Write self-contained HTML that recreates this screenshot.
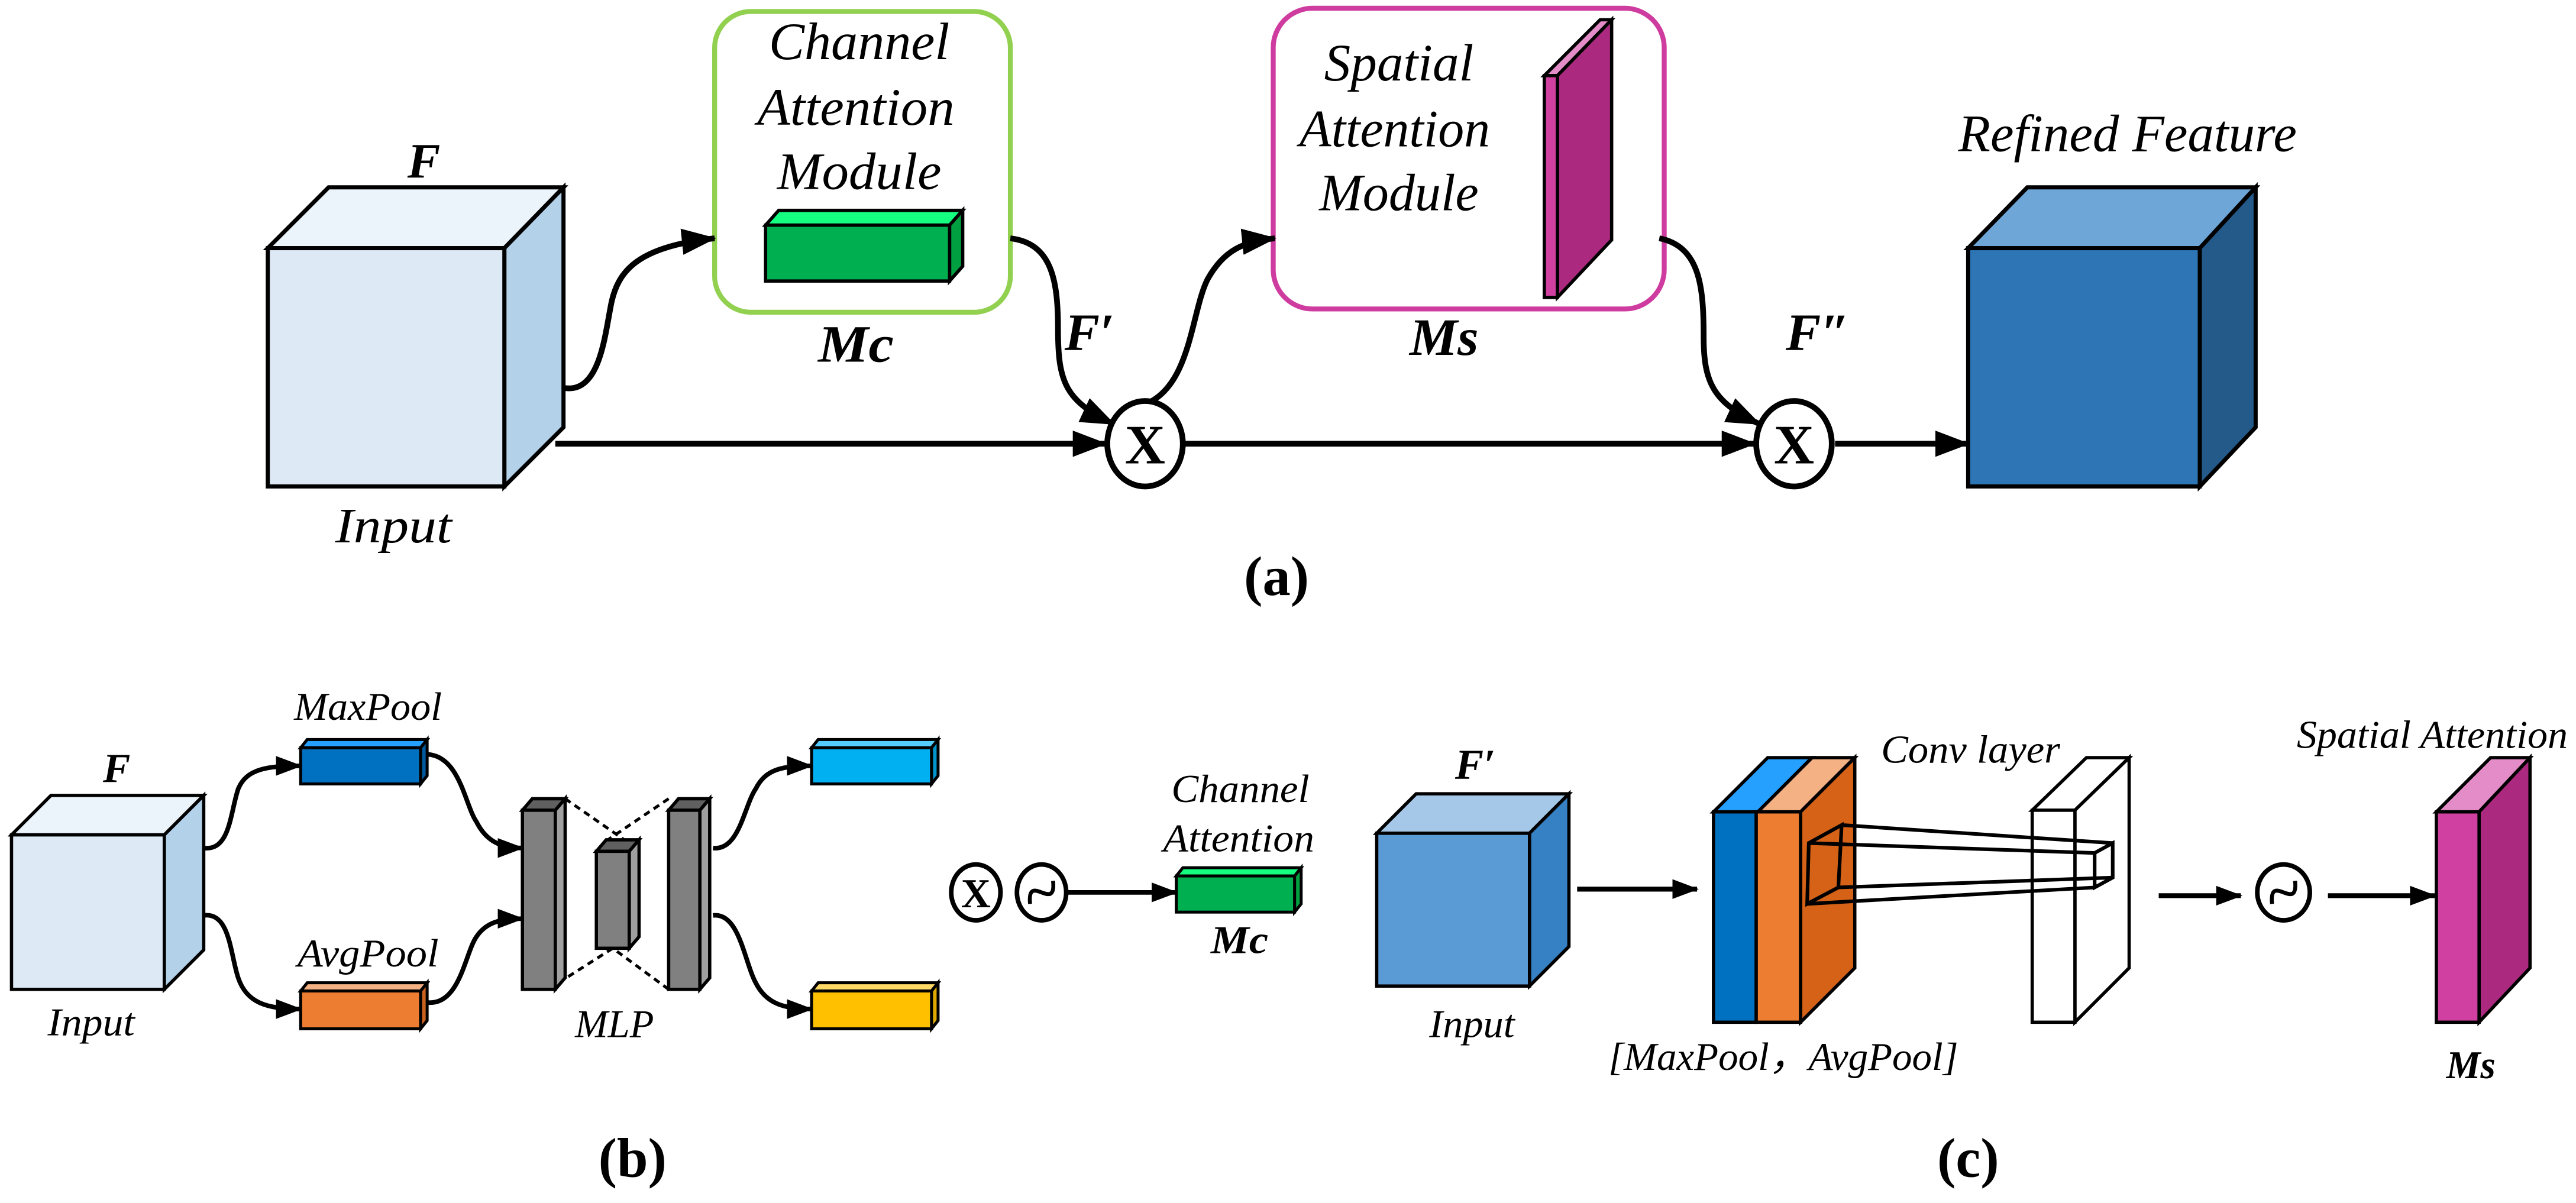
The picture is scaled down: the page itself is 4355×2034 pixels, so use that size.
<!DOCTYPE html>
<html><head><meta charset="utf-8"><style>
html,body{margin:0;padding:0;background:#fff;}
svg{display:block;}
text{font-family:"Liberation Serif","DejaVu Serif",serif;font-style:italic;fill:#000;}
.b{font-weight:bold;}
.n{font-style:normal;font-weight:bold;}
</style></head><body>
<svg width="4355" height="2034" viewBox="0 0 1568 732" preserveAspectRatio="none" xmlns="http://www.w3.org/2000/svg">
<defs>
<marker id="ar" markerUnits="userSpaceOnUse" markerWidth="22" markerHeight="18" refX="20" refY="8" orient="auto">
<path d="M0,0 L21,8 L0,16 Z" fill="#000"/></marker>
<marker id="as" markerUnits="userSpaceOnUse" markerWidth="16" markerHeight="14" refX="15" refY="6" orient="auto">
<path d="M0,0 L16,6 L0,12 Z" fill="#000"/></marker>
</defs>
<rect width="1568" height="732" fill="#fff"/>
<g stroke="#000" stroke-linejoin="miter">
<polygon points="163,151 200,114 343,114 307,151" fill="#ebf3fb" stroke-width="2.5"/>
<polygon points="307,151 343,114 343,260 307,296" fill="#b4d1ea" stroke-width="2.5"/>
<rect x="163" y="151" width="144" height="145" fill="#dde9f5" stroke-width="2.5"/>
<rect x="435" y="7" width="180" height="183" rx="22" fill="none" stroke="#92d050" stroke-width="3"/>
<polygon points="466,137 474,128 586,128 578,137" fill="#15ff80" stroke-width="2"/>
<polygon points="578,137 586,128 586,162 578,171" fill="#00a040" stroke-width="2"/>
<rect x="466" y="137" width="112" height="34" fill="#00b050" stroke-width="2"/>
<rect x="775" y="5" width="238" height="183" rx="24" fill="none" stroke="#cf3c9f" stroke-width="3"/>
<polygon points="940,46 974,12 981,12 948,46" fill="#e48cc8" stroke-width="2"/>
<polygon points="948,46 981,12 981,146 948,181" fill="#ab2a80" stroke-width="2"/>
<rect x="940" y="46" width="8" height="135" fill="#d040a0" stroke-width="2"/>
<polygon points="1198,151 1234,114 1373,114 1339,151" fill="#6ea6d8" stroke-width="2.5"/>
<polygon points="1339,151 1373,114 1373,260 1339,296" fill="#245a8a" stroke-width="2.5"/>
<rect x="1198" y="151" width="141" height="145" fill="#2e75b6" stroke-width="2.5"/>
<g fill="none" stroke-width="3.5">
<path d="M343,236 C365,240 368,205 372,185 C376,165 388,150 435,145" marker-end="url(#ar)"/>
<path d="M615,145 C640,148 644,170 644,200 C644,232 648,244 678,258" marker-end="url(#ar)"/>
<path d="M697,246 C725,235 725,190 735,170 C745,152 757,147 776,145" marker-end="url(#ar)"/>
<path d="M1010,145 C1035,150 1037,175 1037,205 C1037,233 1043,245 1071,258" marker-end="url(#ar)"/>
<path d="M338,270 L673,270" marker-end="url(#ar)"/>
<path d="M721,270 L1068,270" marker-end="url(#ar)"/>
<path d="M1117,270 L1198,270" marker-end="url(#ar)"/>
</g>
<ellipse cx="697" cy="270" rx="23" ry="26" fill="#fff" stroke-width="3.5"/>
<ellipse cx="1092" cy="270" rx="23" ry="26" fill="#fff" stroke-width="3.5"/>
</g>
<text x="697" y="282" text-anchor="middle" class="n" font-size="34" font-style="normal">X</text>
<text x="1092" y="282" text-anchor="middle" class="n" font-size="34" font-style="normal">X</text>
<text x="258" y="108" class="b" font-size="30" text-anchor="middle">F</text>
<text x="204" y="330" font-size="30" textLength="71" lengthAdjust="spacingAndGlyphs">Input</text>
<text x="468" y="36" font-size="32" textLength="110" lengthAdjust="spacingAndGlyphs">Channel</text>
<text x="461" y="76" font-size="32" textLength="120" lengthAdjust="spacingAndGlyphs">Attention</text>
<text x="473" y="115" font-size="32" textLength="100" lengthAdjust="spacingAndGlyphs">Module</text>
<text x="498" y="220" class="b" font-size="32" textLength="46" lengthAdjust="spacingAndGlyphs">Mc</text>
<text x="648" y="213" class="b" font-size="32">F′</text>
<text x="806" y="49" font-size="32" textLength="91" lengthAdjust="spacingAndGlyphs">Spatial</text>
<text x="791" y="89" font-size="32" textLength="116" lengthAdjust="spacingAndGlyphs">Attention</text>
<text x="803" y="128" font-size="32" textLength="97" lengthAdjust="spacingAndGlyphs">Module</text>
<text x="858" y="216" class="b" font-size="32" textLength="42" lengthAdjust="spacingAndGlyphs">Ms</text>
<text x="1087" y="213" class="b" font-size="32">F″</text>
<text x="1192" y="92" font-size="32" textLength="206" lengthAdjust="spacingAndGlyphs">Refined Feature</text>
<text x="777" y="362" class="n" font-size="34" text-anchor="middle">(a)</text>

<g stroke="#000">
<polygon points="7,508 31,484 124,484 100,508" fill="#ebf3fb" stroke-width="2"/>
<polygon points="100,508 124,484 124,578 100,602" fill="#b4d1ea" stroke-width="2"/>
<rect x="7" y="508" width="93" height="94" fill="#dde9f5" stroke-width="2"/>
<polygon points="183,455 187,450 260,450 256,455" fill="#26a0ff" stroke-width="1.8"/>
<polygon points="256,455 260,450 260,472 256,477" fill="#005a9e" stroke-width="1.8"/>
<rect x="183" y="455" width="73" height="22" fill="#0070c0" stroke-width="1.8"/>
<polygon points="183,603 187,598 260,598 256,603" fill="#f4b183" stroke-width="1.8"/>
<polygon points="256,603 260,598 260,621 256,626" fill="#c8621e" stroke-width="1.8"/>
<rect x="183" y="603" width="73" height="23" fill="#ed7d31" stroke-width="1.8"/>
<polygon points="494,455 498,450 571,450 567,455" fill="#55ccff" stroke-width="1.8"/>
<polygon points="567,455 571,450 571,472 567,477" fill="#0095cc" stroke-width="1.8"/>
<rect x="494" y="455" width="73" height="22" fill="#00b0f0" stroke-width="1.8"/>
<polygon points="494,603 498,598 571,598 567,603" fill="#ffd966" stroke-width="1.8"/>
<polygon points="567,603 571,598 571,621 567,626" fill="#e0a800" stroke-width="1.8"/>
<rect x="494" y="603" width="73" height="23" fill="#ffc000" stroke-width="1.8"/>
<g fill="none" stroke-width="1.8" stroke-dasharray="4,3">
<path d="M344,486 L380,511"/><path d="M407,486 L370,511"/>
<path d="M340,598 L373,577"/><path d="M407,602 L373,577"/>
</g>
<polygon points="318,493 324,486 344,486 338,493" fill="#606060" stroke-width="2"/>
<polygon points="338,493 344,486 344,595 338,602" fill="#a0a0a0" stroke-width="2"/>
<rect x="318" y="493" width="20" height="109" fill="#808080" stroke-width="2"/>
<polygon points="363,518 369,511 389,511 383,518" fill="#606060" stroke-width="2"/>
<polygon points="383,518 389,511 389,570 383,577" fill="#a0a0a0" stroke-width="2"/>
<rect x="363" y="518" width="20" height="59" fill="#808080" stroke-width="2"/>
<polygon points="407,493 413,486 432,486 426,493" fill="#606060" stroke-width="2"/>
<polygon points="426,493 432,486 432,595 426,602" fill="#a0a0a0" stroke-width="2"/>
<rect x="407" y="493" width="19" height="109" fill="#808080" stroke-width="2"/>
<g fill="none" stroke-width="2.8">
<path d="M124,516 C140,518 140,495 145,480 C150,468 162,466 183,466" marker-end="url(#as)"/>
<path d="M124,557 C140,555 140,580 145,595 C150,610 162,614 183,614" marker-end="url(#as)"/>
<path d="M260,459 C280,460 283,490 290,500 C296,512 305,516 318,516" marker-end="url(#as)"/>
<path d="M260,610 C280,612 283,580 290,570 C296,561 305,559 318,559" marker-end="url(#as)"/>
<path d="M434,516 C450,518 453,490 460,480 C466,468 476,466 494,466" marker-end="url(#as)"/>
<path d="M434,557 C450,555 453,585 460,598 C466,610 476,614 494,614" marker-end="url(#as)"/>
<path d="M650,543 L716,543" marker-end="url(#as)"/>
</g>
<ellipse cx="594" cy="543" rx="15" ry="17" fill="#fff" stroke-width="2.8"/>
<ellipse cx="634" cy="543" rx="15" ry="17" fill="#fff" stroke-width="2.8"/>
<path d="M627,550 C625,530 643,556 641,536" fill="none" stroke-width="2.4"/>
<polygon points="716,533 720,528 792,528 788,533" fill="#15ff80" stroke-width="1.8"/>
<polygon points="788,533 792,528 792,550 788,555" fill="#00a040" stroke-width="1.8"/>
<rect x="716" y="533" width="72" height="22" fill="#00b050" stroke-width="1.8"/>
</g>
<text x="594" y="552" text-anchor="middle" class="n" font-size="25" font-style="normal">X</text>
<text x="71" y="476" class="b" font-size="25" text-anchor="middle">F</text>
<text x="29" y="630" font-size="24" textLength="53" lengthAdjust="spacingAndGlyphs">Input</text>
<text x="179" y="438" font-size="24" textLength="90" lengthAdjust="spacingAndGlyphs">MaxPool</text>
<text x="181" y="588" font-size="24" textLength="86" lengthAdjust="spacingAndGlyphs">AvgPool</text>
<text x="350" y="631" font-size="24" textLength="48" lengthAdjust="spacingAndGlyphs">MLP</text>
<text x="713" y="488" font-size="24" textLength="84" lengthAdjust="spacingAndGlyphs">Channel</text>
<text x="708" y="518" font-size="24" textLength="92" lengthAdjust="spacingAndGlyphs">Attention</text>
<text x="737" y="580" class="b" font-size="24" textLength="35" lengthAdjust="spacingAndGlyphs">Mc</text>
<text x="385" y="716" class="n" font-size="34" text-anchor="middle">(b)</text>

<g stroke="#000">
<polygon points="838,507 862,483 955,483 931,507" fill="#a6c8e8" stroke-width="2"/>
<polygon points="931,507 955,483 955,576 931,600" fill="#3680c4" stroke-width="2"/>
<rect x="838" y="507" width="93" height="93" fill="#5b9bd5" stroke-width="2"/>
<polygon points="1043,494 1076,461 1103,461 1070,494" fill="#26a0ff" stroke-width="2"/>
<polygon points="1070,494 1103,461 1129,461 1096,494" fill="#f4b183" stroke-width="2"/>
<polygon points="1096,494 1129,461 1129,589 1096,622" fill="#d56217" stroke-width="2"/>
<rect x="1043" y="494" width="26" height="128" fill="#0070c0" stroke-width="2"/>
<rect x="1069" y="494" width="27" height="128" fill="#ed7d31" stroke-width="2"/>
<polygon points="1237,493 1270,461 1296,461 1263,493" fill="#fff" stroke-width="2"/>
<polygon points="1263,493 1296,461 1296,589 1263,622" fill="#fff" stroke-width="2"/>
<rect x="1237" y="493" width="26" height="129" fill="#fff" stroke-width="2"/>
<g fill="none" stroke-width="2.2">
<path d="M1101,513 L1121,502 L1119,540 L1100,550 Z"/>
<path d="M1275,519 L1286,513 L1286,534 L1275,540 Z"/>
<path d="M1101,513 L1275,519 M1121,502 L1286,513 M1119,540 L1286,534 M1100,550 L1275,540"/>
</g>
<g fill="none" stroke-width="3">
<path d="M960,541 L1033,541" marker-end="url(#as)"/>
<path d="M1314,545 L1364,545" marker-end="url(#as)"/>
<path d="M1417,545 L1482,545" marker-end="url(#as)"/>
</g>
<ellipse cx="1390" cy="543" rx="16" ry="17" fill="#fff" stroke-width="2.8"/>
<path d="M1383,550 C1381,530 1399,556 1397,536" fill="none" stroke-width="2.4"/>
<polygon points="1483,494 1516,461 1540,461 1509,494" fill="#e48cc8" stroke-width="2"/>
<polygon points="1509,494 1540,461 1540,589 1509,622" fill="#ab2a80" stroke-width="2"/>
<rect x="1483" y="494" width="26" height="128" fill="#d040a0" stroke-width="2"/>
</g>
<text x="898" y="474" class="b" font-size="26" text-anchor="middle">F′</text>
<text x="870" y="631" font-size="24" textLength="52" lengthAdjust="spacingAndGlyphs">Input</text>
<text x="1145" y="464" font-size="24" textLength="109" lengthAdjust="spacingAndGlyphs">Conv layer</text>
<text x="1398" y="455" font-size="24" textLength="165" lengthAdjust="spacingAndGlyphs">Spatial Attention</text>
<text x="979" y="651" font-size="24" textLength="213" lengthAdjust="spacingAndGlyphs">[MaxPool，AvgPool]</text>
<text x="1489" y="656" class="b" font-size="24" textLength="30" lengthAdjust="spacingAndGlyphs">Ms</text>
<text x="1198" y="716" class="n" font-size="34" text-anchor="middle">(c)</text>
</svg>
</body></html>
